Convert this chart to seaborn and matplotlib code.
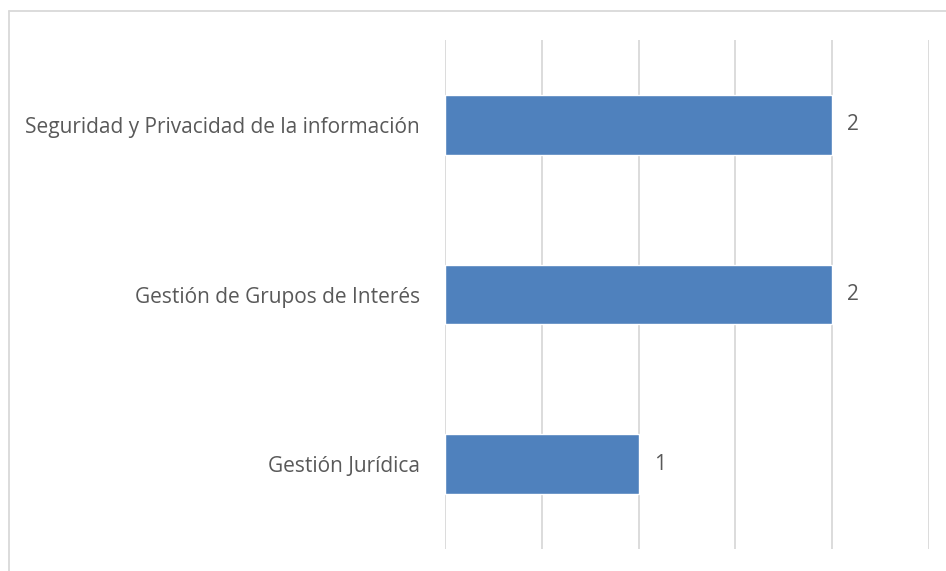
import matplotlib
matplotlib.use("Agg")
import matplotlib.pyplot as plt
import seaborn as sns
import pandas as pd
from matplotlib.lines import Line2D

# data
categorias = [
    "Seguridad y Privacidad de la información",
    "Gestión de Grupos de Interés",
    "Gestión Jurídica",
]
valores = [2, 2, 1]
x_ticks = [0, 0.5, 1, 1.5, 2, 2.5]

df = pd.DataFrame({"categoria": categorias, "valor": valores})

sns.set_theme(style="white")
plt.rcParams["font.family"] = ["Open Sans", "DejaVu Sans"]

text_color = "#595959"
bar_color = "#4F81BD"
fsize = 15.0

fig = plt.figure(figsize=(9.46, 5.71), dpi=100)
ax = fig.add_axes([445 / 946, 1 - 549 / 571, (929 - 445) / 946, (549 - 40) / 571])

sns.barplot(data=df, x="valor", y="categoria", orient="h", color=bar_color,
            width=0.35, saturation=1, ax=ax)

ax.set_xlim(0, 2.5)
ax.set_ylim(2.5, -0.5)
ax.set_xticks(x_ticks)
ax.set_xticklabels([])
ax.tick_params(axis="x", length=0)
ax.tick_params(axis="y", length=0, pad=18, labelsize=fsize, labelcolor=text_color)
ax.xaxis.grid(True, color="#d9d9d9", linewidth=1.3)
ax.yaxis.grid(False)
ax.set_axisbelow(True)
for s in ax.spines.values():
    s.set_visible(False)
ax.set_xlabel("")
ax.set_ylabel("")

for i, v in enumerate(valores):
    ax.annotate(str(v), xy=(v, i), xytext=(11, 0), textcoords="offset points",
                va="center", ha="left", fontsize=fsize, color=text_color)

# outer chart frame (only left and top edges visible in the crop)
fig.add_artist(Line2D([9 / 946, 9 / 946], [0, 1 - 11 / 571], transform=fig.transFigure,
                      color="#d9d9d9", linewidth=1.3))
fig.add_artist(Line2D([9 / 946, 1], [1 - 11 / 571, 1 - 11 / 571], transform=fig.transFigure,
                      color="#d9d9d9", linewidth=1.3))

fig.savefig("out.png", dpi=100)
